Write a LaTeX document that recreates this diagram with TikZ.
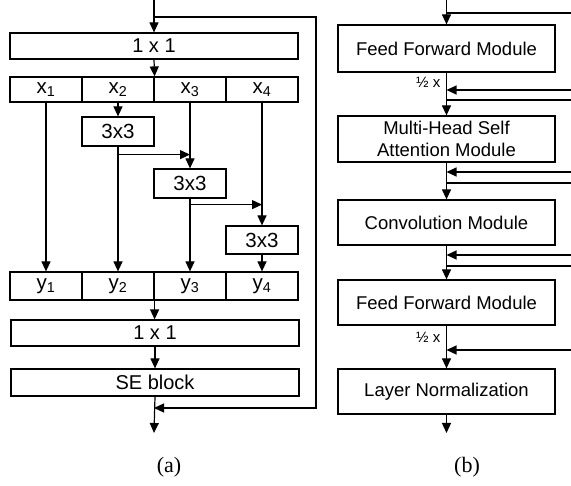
\documentclass[tikz,border=0pt]{standalone}
\usepackage{fontspec}
\setmainfont{Liberation Sans}
\newfontfamily\capfont{Liberation Serif}
\usetikzlibrary{arrows.meta}
\begin{document}
\begin{tikzpicture}[x=1pt,y=-1pt,line width=1.2pt,
  blk/.style={draw,inner sep=0pt,minimum width=288pt,minimum height=26pt,font=\fontsize{20}{22}\selectfont},
  cell/.style={draw,inner sep=0pt,minimum width=72pt,minimum height=25pt,font=\fontsize{20.5}{22}\selectfont},
  kbox/.style={cell,minimum height=29pt},
  mod/.style={draw,inner sep=0pt,minimum width=217pt,minimum height=46pt,align=center,font=\fontsize{18.5}{22}\selectfont},
  arr/.style={-{Triangle[length=10pt,width=9pt]}},
  half/.style={anchor=east,inner sep=0pt,font=\fontsize{15}{16}\selectfont},
  capn/.style={font=\capfont\fontsize{22}{24}\selectfont}]
\useasboundingbox (0,0) rectangle (571,486);
% (a) Res2Net style block
\coordinate (ain) at (154,0);
\coordinate (skin) at (154,17);
\coordinate (sktop) at (316,17);
\coordinate (skbot) at (316,408);
\coordinate (skout) at (154,408);
\coordinate (aout) at (154,433);
\node[blk] (conv1) at (154,46) {1 x 1};
\node[cell] (x1) at (46,89.5) {x\textsubscript{1}};
\node[cell] (x2) at (118,89.5) {x\textsubscript{2}};
\node[cell] (x3) at (190,89.5) {x\textsubscript{3}};
\node[cell] (x4) at (262,89.5) {x\textsubscript{4}};
\node[kbox] (k2) at (118,131.5) {3x3};
\node[kbox] (k3) at (190,183.5) {3x3};
\node[kbox,minimum height=28pt] (k4) at (262,240) {3x3};
\node[cell,minimum height=28pt] (y1) at (46,286) {y\textsubscript{1}};
\node[cell,minimum height=28pt] (y2) at (118,286) {y\textsubscript{2}};
\node[cell,minimum height=28pt] (y3) at (190,286) {y\textsubscript{3}};
\node[cell,minimum height=28pt] (y4) at (262,286) {y\textsubscript{4}};
\node[blk] (conv2) at (155,333) {1 x 1};
\node[blk,minimum height=27pt] (se) at (155,382.5) {SE block};
\draw[arr] (ain) -- (conv1.north);
\draw[arr] (skin) -- (sktop) -- (skbot) -- (skout);
\draw[arr] (conv1.south) -- (x2.north east);
\draw[arr] (x1.south) -- (y1.north);
\draw[arr] (x2.south) -- (k2.north);
\draw[arr] (k2.south) -- (y2.north);
\draw[arr] ([yshift=-8pt]k2.south) -- ([yshift=-8pt]k2.south -| x3.south);
\draw[arr] (x3.south) -- (k3.north);
\draw[arr] (k3.south) -- (y3.north);
\draw[arr] ([yshift=-6pt]k3.south) -- ([yshift=-6pt]k3.south -| x4.south);
\draw[arr] (x4.south) -- (k4.north);
\draw[arr] (k4.south) -- (y4.north);
\draw[arr] (y2.south east) -- (y2.south east |- conv2.north);
\draw[arr] (conv2.south) -- (se.north);
\draw[arr] (se.south) -- (aout);
\node[capn] (capa) at (169,467) {(a)};
% (b) conformer block
\coordinate (bin) at (446.5,0);
\coordinate (bout) at (446.5,433);
\node[mod,minimum height=47pt] (ff1) at (446.5,48.5) {Feed Forward Module};
\node[mod] (mhsa) at (446.5,139) {Multi-Head Self\\Attention Module};
\node[mod,minimum height=45pt] (cm) at (446.5,222.5) {Convolution Module};
\node[mod,minimum height=45pt] (ff2) at (446.5,302.5) {Feed Forward Module};
\node[mod,minimum height=45pt] (ln) at (446.5,391.5) {Layer Normalization};
\draw[arr] (bin) -- (ff1.north);
\draw (446.5,13) -- (571,13);
\draw[arr] (ff1.south) -- (mhsa.north);
\draw[arr] (571,90) -- (446.5,90);
\draw (446.5,100) -- (571,100);
\draw[arr] (mhsa.south) -- (cm.north);
\draw[arr] (571,172) -- (446.5,172);
\draw (446.5,183) -- (571,183);
\draw[arr] (cm.south) -- (ff2.north);
\draw[arr] (571,255) -- (446.5,255);
\draw (446.5,266) -- (571,266);
\draw[arr] (ff2.south) -- (ln.north);
\draw[arr] (571,350) -- (446.5,350);
\draw[arr] (ln.south) -- (bout);
\node[half] (h1) at (441,82) {½ x};
\node[half] (h2) at (441,337) {½ x};
\node[capn] (capb) at (467,467) {(b)};
\end{tikzpicture}
\end{document}
